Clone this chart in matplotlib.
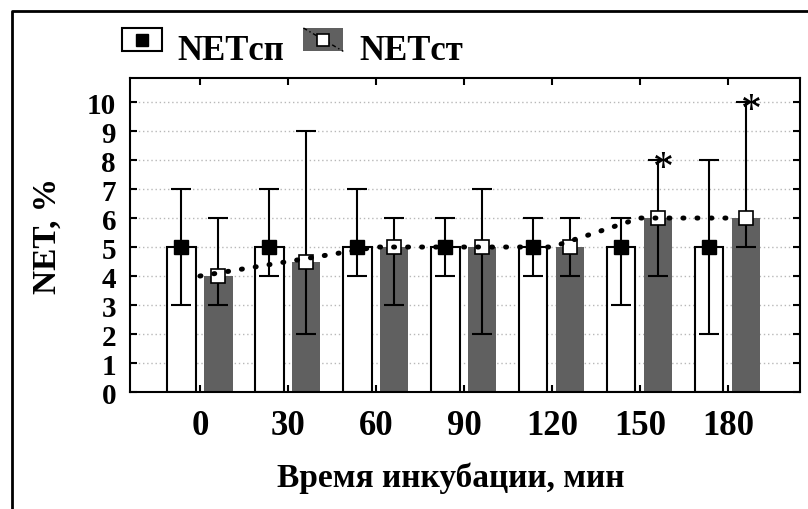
import numpy as np
import matplotlib
matplotlib.use('Agg')
import matplotlib.pyplot as plt
from matplotlib.patches import Rectangle, Patch
from matplotlib.lines import Line2D

# данные
times = ['0', '30', '60', '90', '120', '150', '180']
net_sp = [5, 5, 5, 5, 5, 5, 5]
net_sp_lo = [3, 4, 4, 4, 4, 3, 2]
net_sp_hi = [7, 7, 7, 6, 6, 6, 8]
net_st = [4, 4.5, 5, 5, 5, 6, 6]
net_st_lo = [3, 2, 3, 2, 4, 4, 5]
net_st_hi = [6, 9, 6, 7, 6, 8, 10]
signif = ['', '', '', '', '', '*', '*']

plt.rcParams['font.family'] = ['Liberation Serif', 'DejaVu Serif']
plt.rcParams['font.weight'] = 'bold'

GRAY = '#606060'
LEG_DY = 5.5  # сдвиг значков легенды вверх, pt

fig = plt.figure(figsize=(8.08, 5.10), dpi=100)
ax = fig.add_axes([130/808, 1-393/510, 670/808, 314/510])

x = np.arange(len(times))
w = 0.32
dx = 0.21
sp = np.array(net_sp)
st = np.array(net_st)

ax.bar(x - dx, sp, w, color='white', edgecolor='black', linewidth=1.5, zorder=2)
ax.bar(x + dx, st, w, color=GRAY, edgecolor='none', zorder=2)

ax.errorbar(x - dx, sp, yerr=[sp - np.array(net_sp_lo), np.array(net_sp_hi) - sp],
            fmt='none', ecolor='black', elinewidth=1.5, capsize=7.5, capthick=1.5, zorder=3)
ax.errorbar(x + dx, st, yerr=[st - np.array(net_st_lo), np.array(net_st_hi) - st],
            fmt='none', ecolor='black', elinewidth=1.5, capsize=7.5, capthick=1.5, zorder=3)

ax.plot(x - dx, sp, 's', color='black', markersize=10, zorder=4)
ax.plot(x + dx, st, 's', markerfacecolor='white', markeredgecolor='black',
        markeredgewidth=1.2, markersize=10, zorder=4)
ax.plot(x, st, color='black', linewidth=3.6, linestyle=(0, (0.2, 2.6)),
        dash_capstyle='round', zorder=5)

for xi, hi, s in zip(x, net_st_hi, signif):
    if s:
        ax.text(xi + dx + 0.06, hi - 0.3, s, ha='center', va='center', fontsize=30,
                fontweight='normal', zorder=6)

ax.set_xlim(-0.795, 6.82)
ax.set_ylim(0, 10.83)
ax.set_xticks(x)
ax.set_xticklabels(times)
ax.set_yticks(range(0, 11))
ax.yaxis.grid(True, linestyle=(0, (1, 2)), color='#b8b8b8', linewidth=1, zorder=0)
ax.set_axisbelow(True)
ax.tick_params(axis='both', direction='in', length=5, width=1.5,
               top=True, right=True)
ax.tick_params(axis='x', pad=12, labelsize=25)
ax.tick_params(axis='y', pad=10, labelsize=21)
for s in ax.spines.values():
    s.set_linewidth(1.5)

ax.set_ylabel('NET, %', fontsize=24, fontweight='bold')
ax.yaxis.set_label_coords(-0.1, 0.5)
ax.set_xlabel('Время инкубации, мин', fontsize=24, fontweight='bold')
ax.xaxis.set_label_coords(0.479, -0.22)


class SpHandler:
    def legend_artist(self, legend, orig_handle, fontsize, handlebox):
        x0, y0 = -handlebox.xdescent, -handlebox.ydescent + LEG_DY
        w, h = handlebox.width, handlebox.height
        t = handlebox.get_transform()
        handlebox.add_artist(Rectangle((x0, y0), w, h, facecolor='white',
                                       edgecolor='black', linewidth=1.5, transform=t))
        handlebox.add_artist(Line2D([x0 + w/2], [y0 + h/2], marker='s', color='black',
                                    markersize=9, transform=t))
        return handlebox


class StHandler:
    def legend_artist(self, legend, orig_handle, fontsize, handlebox):
        x0, y0 = -handlebox.xdescent, -handlebox.ydescent + LEG_DY
        w, h = handlebox.width, handlebox.height
        t = handlebox.get_transform()
        handlebox.add_artist(Rectangle((x0, y0), w, h, facecolor=GRAY,
                                       edgecolor='none', transform=t))
        handlebox.add_artist(Line2D([x0, x0 + w], [y0 + h, y0], color='black',
                                    linewidth=1, linestyle=(0, (3, 2, 1, 2)), transform=t))
        handlebox.add_artist(Line2D([x0 + w/2], [y0 + h/2], marker='s',
                                    markerfacecolor='white', markeredgecolor='black',
                                    markeredgewidth=1.2, markersize=9, transform=t))
        return handlebox


h_sp = Patch(label='NETсп')
h_st = Patch(label='NETст')
fig.legend(handles=[h_sp, h_st], handler_map={h_sp: SpHandler(), h_st: StHandler()},
           loc='center left', bbox_to_anchor=(122/808, 1-52/510), ncol=2,
           frameon=False, borderpad=0, borderaxespad=0,
           handlelength=1.15, handleheight=0.66, handletextpad=0.45, columnspacing=0.55,
           prop={'weight': 'bold', 'size': 25})

# рамка вокруг рисунка
fig.add_artist(Line2D([12/808, 12/808, 1], [0, 1-12/510, 1-12/510],
                      color='black', linewidth=2, transform=fig.transFigure))

fig.savefig('out.png', dpi=100)
